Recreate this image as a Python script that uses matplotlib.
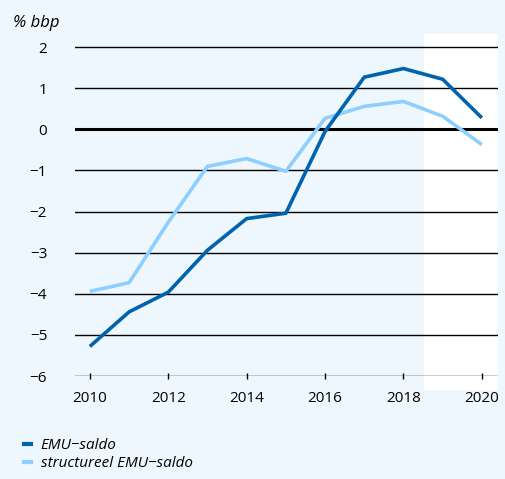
import matplotlib.pyplot as plt
from matplotlib.patches import Rectangle
from matplotlib.lines import Line2D

# data
jaren = [2010, 2011, 2012, 2013, 2014, 2015, 2016, 2017, 2018, 2019, 2020]
emu_saldo = [-5.28, -4.44, -3.96, -2.94, -2.17, -2.04, -0.05, 1.27, 1.48, 1.22, 0.28]
structureel = [-3.94, -3.73, -2.26, -0.90, -0.71, -1.02, 0.27, 0.56, 0.68, 0.32, -0.37]
y_ticks = [-6, -5, -4, -3, -2, -1, 0, 1, 2]
x_ticks = [2010, 2012, 2014, 2016, 2018, 2020]

bg = '#eef7fe'
donker = '#0063ae'
licht = '#8ecfff'

plt.rcParams['font.family'] = ['Open Sans', 'DejaVu Sans']

fig = plt.figure(figsize=(5.05, 4.79), dpi=100, facecolor=bg)
ax = fig.add_axes([0.1485, 0.215, 0.8375, 0.714])
ax.set_facecolor(bg)
ax.set_xlim(2009.62, 2020.41)
ax.set_ylim(-6, 2.32)

# white block for forecast years
ax.add_patch(Rectangle((2018.52, -6.34), 2020.41 - 2018.52, 2.32 + 6.34,
                       facecolor='white', edgecolor='none', clip_on=False, zorder=0))

for y in y_ticks:
    ax.axhline(y, color='black', lw=2.2 if y == 0 else 1.0, zorder=1)

ax.plot(jaren, structureel, color=licht, lw=2.6, zorder=3, solid_capstyle='butt')
ax.plot(jaren, emu_saldo, color=donker, lw=2.6, zorder=4, solid_capstyle='butt')

for s in ax.spines.values():
    s.set_visible(False)

ax.set_yticks(y_ticks)
ax.set_yticklabels([str(v).replace('-', '\u2212') for v in y_ticks])
ax.tick_params(axis='y', length=0, pad=20, labelsize=11)
ax.set_xticks(x_ticks)
ax.set_xticklabels([str(v) for v in x_ticks])
ax.tick_params(axis='x', length=4, width=1, direction='inout', pad=9, labelsize=11)

fig.text(0.026, 0.951, '% bbp', fontsize=12, style='italic', va='center', ha='left')

handles = [Line2D([], [], color=donker, lw=3), Line2D([], [], color=licht, lw=3)]
fig.legend(handles, ['EMU\u2212saldo', 'structureel EMU\u2212saldo'],
           loc='lower left', bbox_to_anchor=(0.02, -0.012), frameon=False,
           handlelength=0.5, handletextpad=0.6, labelspacing=0.2,
           prop={'size': 11, 'style': 'italic'})

fig.savefig('out.png', dpi=100, facecolor=bg)
